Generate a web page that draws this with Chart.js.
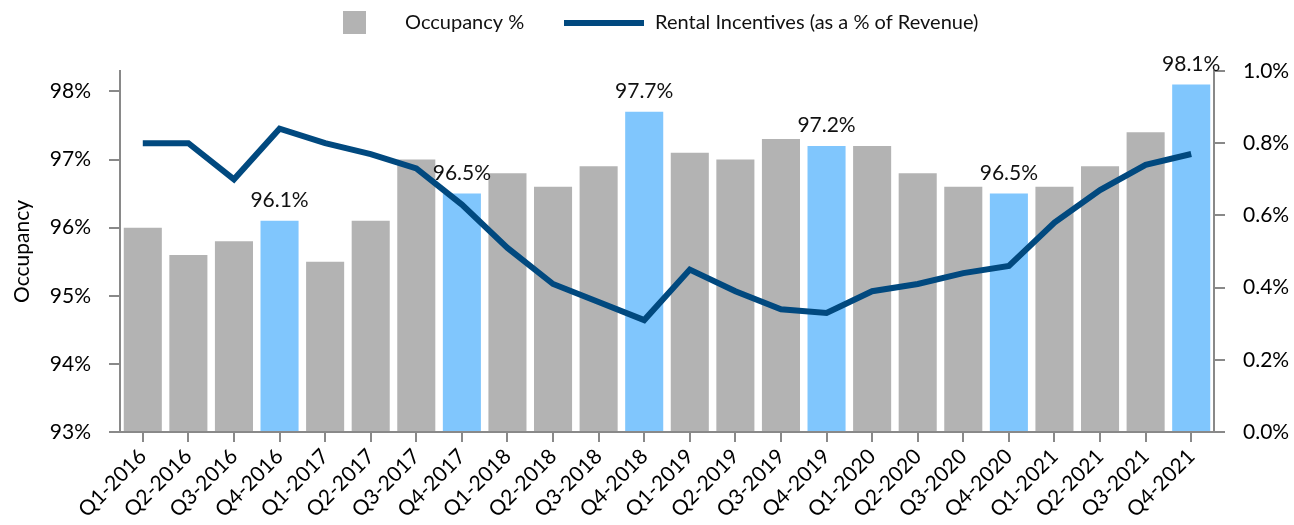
<!DOCTYPE html>
<html>
<head>
<meta charset="utf-8">
<script src="https://cdn.jsdelivr.net/npm/chart.js@4/dist/chart.umd.min.js"></script>
<style>
  html, body { margin: 0; padding: 0; background: #fff; }
  #wrap { width: 1294px; height: 525px; position: relative; }
</style>
</head>
<body>
<div id="wrap"><canvas id="c"></canvas></div>
<script>
// Quarterly periods
const quarters = [
  'Q1-2016','Q2-2016','Q3-2016','Q4-2016',
  'Q1-2017','Q2-2017','Q3-2017','Q4-2017',
  'Q1-2018','Q2-2018','Q3-2018','Q4-2018',
  'Q1-2019','Q2-2019','Q3-2019','Q4-2019',
  'Q1-2020','Q2-2020','Q3-2020','Q4-2020',
  'Q1-2021','Q2-2021','Q3-2021','Q4-2021'
];

// Occupancy (%), left axis
const occupancy = [
  96.0, 95.6, 95.8, 96.1,
  95.5, 96.1, 97.0, 96.5,
  96.8, 96.6, 96.9, 97.7,
  97.1, 97.0, 97.3, 97.2,
  97.2, 96.8, 96.6, 96.5,
  96.6, 96.9, 97.4, 98.1
];

// Rental incentives as a % of revenue, right axis
const incentives = [
  0.80, 0.80, 0.70, 0.84,
  0.80, 0.77, 0.73, 0.63,
  0.51, 0.41, 0.36, 0.31,
  0.45, 0.39, 0.34, 0.33,
  0.39, 0.41, 0.44, 0.46,
  0.58, 0.67, 0.74, 0.77
];

// Year-end quarters shown in light blue with a value label
const yearEnd = ['Q4-2016','Q4-2017','Q4-2018','Q4-2019','Q4-2020','Q4-2021'];

// Axis tick values
const occupancyTicks = [93, 94, 95, 96, 97, 98];
const incentiveTicks = [0, 0.2, 0.4, 0.6, 0.8, 1.0];

const GREY = '#b3b3b3';
const LIGHT_BLUE = '#80c6fd';
const NAVY = '#01497f';
const AXIS = '#898989';
const FONT = 'Lato, "Open Sans", sans-serif';

const barColors = quarters.map(q => yearEnd.includes(q) ? LIGHT_BLUE : GREY);

// Value labels above the year-end bars
const barLabels = {
  id: 'barLabels',
  afterDatasetsDraw(chart) {
    const meta = chart.getDatasetMeta(1);
    const ctx = chart.ctx;
    ctx.save();
    ctx.font = '21px ' + FONT;
    ctx.fillStyle = '#111';
    ctx.textAlign = 'center';
    ctx.textBaseline = 'alphabetic';
    meta.data.forEach((bar, i) => {
      if (!yearEnd.includes(quarters[i])) return;
      ctx.fillText(occupancy[i].toFixed(1) + '%', bar.x, bar.y - 14);
    });
    ctx.restore();
  }
};

// Legend row across the top
const topLegend = {
  id: 'topLegend',
  afterDraw(chart) {
    const ctx = chart.ctx;
    ctx.save();
    ctx.font = '20px ' + FONT;
    ctx.textBaseline = 'middle';
    ctx.textAlign = 'left';
    const y = 23;
    ctx.fillStyle = chart.data.datasets[1].legendColor;
    ctx.fillRect(343, 11, 23, 23);
    ctx.fillStyle = '#111';
    ctx.fillText(chart.data.datasets[1].label, 405, y);
    ctx.strokeStyle = chart.data.datasets[0].borderColor;
    ctx.lineWidth = 6;
    ctx.beginPath();
    ctx.moveTo(564, y);
    ctx.lineTo(644, y);
    ctx.stroke();
    ctx.fillText(chart.data.datasets[0].label, 655, y);
    ctx.restore();
  }
};

new Chart(document.getElementById('c'), {
  data: {
    labels: quarters,
    datasets: [
      {
        type: 'line',
        label: 'Rental Incentives (as a % of Revenue)',
        data: incentives,
        yAxisID: 'yR',
        borderColor: NAVY,
        borderWidth: 6,
        pointRadius: 0,
        tension: 0,
        fill: false,
        order: 1
      },
      {
        type: 'bar',
        label: 'Occupancy %',
        data: occupancy,
        yAxisID: 'yL',
        backgroundColor: barColors,
        legendColor: GREY,
        borderWidth: 0,
        barPercentage: 0.835,
        categoryPercentage: 1.0,
        base: 93,
        order: 2
      }
    ]
  },
  options: {
    responsive: true,
    maintainAspectRatio: false,
    animation: false,
    devicePixelRatio: 1,
    layout: { padding: { top: 71, left: 0, right: 0, bottom: 0 } },
    plugins: {
      legend: { display: false },
      tooltip: { enabled: false }
    },
    scales: {
      x: {
        offset: true,
        grid: {
          display: true,
          offset: false,
          drawOnChartArea: false,
          drawTicks: true,
          tickLength: 10,
          color: AXIS,
          lineWidth: 2
        },
        border: { display: true, color: AXIS, width: 2 },
        ticks: {
          autoSkip: false,
          minRotation: 45,
          maxRotation: 45,
          padding: 2,
          color: '#000',
          font: { family: FONT, size: 21 }
        },
        afterFit(scale) { scale.height = 93; }
      },
      yL: {
        type: 'linear',
        position: 'left',
        min: 93,
        max: 98.3,
        afterBuildTicks(scale) {
          scale.ticks = occupancyTicks.map(v => ({ value: v }));
        },
        grid: {
          drawOnChartArea: false,
          drawTicks: true,
          tickLength: 11,
          color: AXIS,
          lineWidth: 2
        },
        border: { display: true, color: AXIS, width: 2 },
        ticks: {
          padding: 18,
          color: '#000',
          font: { family: FONT, size: 21 },
          callback: v => v + '%'
        },
        title: {
          display: true,
          text: 'Occupancy',
          color: '#000',
          font: { family: FONT, size: 21 },
          padding: { top: 10, bottom: 0 }
        },
        afterFit(scale) { scale.width = 120; }
      },
      yR: {
        type: 'linear',
        position: 'right',
        min: 0,
        max: 1.0,
        afterBuildTicks(scale) {
          scale.ticks = incentiveTicks.map(v => ({ value: v }));
        },
        grid: {
          drawOnChartArea: false,
          drawTicks: true,
          tickLength: 11,
          color: AXIS,
          lineWidth: 2
        },
        border: { display: true, color: AXIS, width: 2 },
        ticks: {
          padding: 18,
          color: '#000',
          font: { family: FONT, size: 21 },
          callback: v => v.toFixed(1) + '%'
        },
        afterFit(scale) { scale.width = 80; }
      }
    }
  },
  plugins: [barLabels, topLegend]
});
</script>
</body>
</html>
